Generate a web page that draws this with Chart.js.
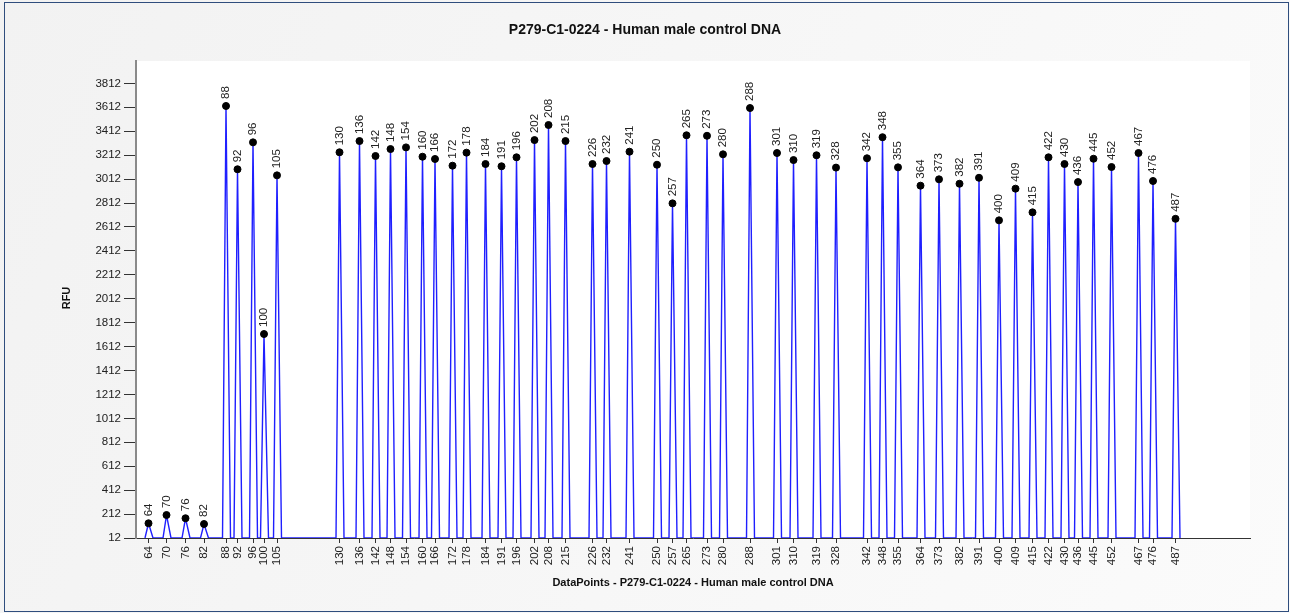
<!DOCTYPE html>
<html>
<head>
<meta charset="utf-8">
<script src="https://cdn.jsdelivr.net/npm/chart.js@4"></script>
<style>
  html, body { margin: 0; padding: 0; background: #f5f5f5; }
  #wrap { width: 1290px; height: 613px; position: relative; }
</style>
</head>
<body>
<div id="wrap"><canvas id="grafico"></canvas></div>
<script>
// fragment sizes (nt) used as peak / tick labels
const tamanhos = [64, 70, 76, 82, 88, 92, 96, 100, 105, 130, 136, 142, 148, 154, 160, 166, 172, 178, 184, 191, 196, 202, 208, 215, 226, 232, 241, 250, 257, 265, 273, 280, 288, 301, 310, 319, 328, 342, 348, 355, 364, 373, 382, 391, 400, 409, 415, 422, 430, 436, 445, 452, 467, 476, 487];
// peak positions on the DataPoints axis
const posicoes = [12.5, 30.5, 49.5, 68, 90, 101.5, 117, 128, 141, 203.5, 223.5, 239.5, 254.5, 270, 286.5, 299, 316.5, 330.5, 349.5, 365.5, 380.5, 398.5, 412.5, 429.5, 456.5, 470.5, 493.5, 521, 536.5, 550.5, 571, 587, 614, 641, 657.5, 680.5, 700, 731, 746.5, 762, 784.5, 803, 823.5, 843, 863, 879.5, 896.5, 912.5, 928.5, 942, 957.5, 975.5, 1002.5, 1017, 1039.5];
// peak heights (RFU)
const alturas = [135, 204, 177, 129, 3623, 3094, 3319, 1717, 3043, 3236, 3330, 3205, 3263, 3277, 3199, 3180, 3124, 3233, 3138, 3119, 3194, 3338, 3464, 3330, 3138, 3163, 3241, 3132, 2809, 3378, 3374, 3219, 3606, 3230, 3171, 3211, 3108, 3186, 3362, 3110, 2957, 3010, 2973, 3023, 2667, 2932, 2734, 3194, 3138, 2987, 3182, 3113, 3230, 2996, 2680];
// y axis tick values
const ticksY = [12, 212, 412, 612, 812, 1012, 1212, 1412, 1612, 1812, 2012, 2212, 2412, 2612, 2812, 3012, 3212, 3412, 3612, 3812];
const baseRFU = 12;

const titulo = 'P279-C1-0224 - Human male control DNA';
const fonte = 'Arial, "Liberation Sans", sans-serif';

// trace: baseline - apex - baseline for every peak
const traco = [];
posicoes.forEach((p, i) => {
  traco.push({ x: p - 3.5, y: baseRFU });
  traco.push({ x: p, y: alturas[i] });
  traco.push({ x: p + 4.5, y: baseRFU });
});
const picos = posicoes.map((p, i) => ({ x: p, y: alturas[i] }));

const fundo = {
  id: 'fundo',
  beforeDraw(chart) {
    const { ctx, chartArea: a, width, height } = chart;
    ctx.save();
    const g = ctx.createLinearGradient(0, 0, width, height);
    g.addColorStop(0, '#f2f2f2');
    g.addColorStop(1, '#fbfbfb');
    ctx.fillStyle = g;
    ctx.fillRect(0, 0, width, height);
    ctx.strokeStyle = '#2f4d7d';
    ctx.lineWidth = 1;
    ctx.strokeRect(4.5, 2.5, width - 6, height - 4);
    ctx.fillStyle = '#ffffff';
    ctx.fillRect(a.left, a.top, a.right - a.left, a.bottom - a.top);
    ctx.restore();
  },
  afterDraw(chart) {
    const { ctx, chartArea: a } = chart;
    ctx.save();
    ctx.fillStyle = '#111';
    ctx.textAlign = 'center';
    ctx.textBaseline = 'middle';
    ctx.font = 'bold 14px ' + fonte;
    ctx.fillText(titulo, 645, 30);
    ctx.font = 'bold 11px ' + fonte;
    ctx.fillText('DataPoints - ' + titulo, (a.left + a.right) / 2, 583);
    ctx.translate(67, 298);
    ctx.rotate(-Math.PI / 2);
    ctx.fillText('RFU', 0, 0);
    ctx.restore();
  }
};

const rotulos = {
  id: 'rotulos',
  afterDatasetsDraw(chart) {
    const { ctx, scales } = chart;
    ctx.save();
    ctx.fillStyle = '#222';
    ctx.font = '11.5px ' + fonte;
    ctx.textAlign = 'left';
    ctx.textBaseline = 'middle';
    tamanhos.forEach((t, i) => {
      const x = scales.x.getPixelForValue(posicoes[i]);
      const y = scales.y.getPixelForValue(alturas[i]);
      ctx.save();
      ctx.translate(x, y - 7);
      ctx.rotate(-Math.PI / 2);
      ctx.fillText(String(t), 0, 0);
      ctx.restore();
    });
    ctx.restore();
  }
};

new Chart(document.getElementById('grafico'), {
  type: 'line',
  data: {
    datasets: [
      {
        type: 'scatter',
        data: picos,
        pointRadius: 3.5,
        pointBackgroundColor: '#000',
        pointBorderColor: '#000',
        showLine: false,
        order: 0
      },
      {
        data: traco,
        borderColor: '#1f1fff',
        borderWidth: 1.4,
        pointRadius: 0,
        tension: 0,
        fill: false,
        order: 1
      }
    ]
  },
  options: {
    responsive: true,
    maintainAspectRatio: false,
    animation: false,
    layout: { padding: { top: 61, right: 40, left: 0, bottom: 0 } },
    plugins: { legend: { display: false }, tooltip: { enabled: false } },
    scales: {
      x: {
        type: 'linear',
        min: 0,
        max: 1114,
        afterBuildTicks: s => { s.ticks = posicoes.map(v => ({ value: v })); },
        afterFit: s => { s.height = 75; },
        grid: { drawOnChartArea: false, drawTicks: true, tickLength: 5, color: '#333' },
        border: { display: true, color: '#333', width: 1 },
        ticks: {
          autoSkip: false,
          minRotation: 90,
          maxRotation: 90,
          padding: 3,
          color: '#222',
          font: { family: fonte, size: 11.5 },
          callback: (v, i) => tamanhos[i]
        }
      },
      y: {
        type: 'linear',
        min: 12,
        max: 3999,
        afterBuildTicks: s => { s.ticks = ticksY.map(v => ({ value: v })); },
        afterFit: s => { s.width = 136; },
        grid: { drawOnChartArea: false, drawTicks: true, tickLength: 12, color: '#333' },
        border: { display: true, color: '#8a8a8a', width: 2 },
        ticks: {
          padding: 3,
          color: '#222',
          font: { family: fonte, size: 11.5 },
          callback: v => String(v)
        }
      }
    }
  },
  plugins: [fundo, rotulos]
});
</script>
</body>
</html>
